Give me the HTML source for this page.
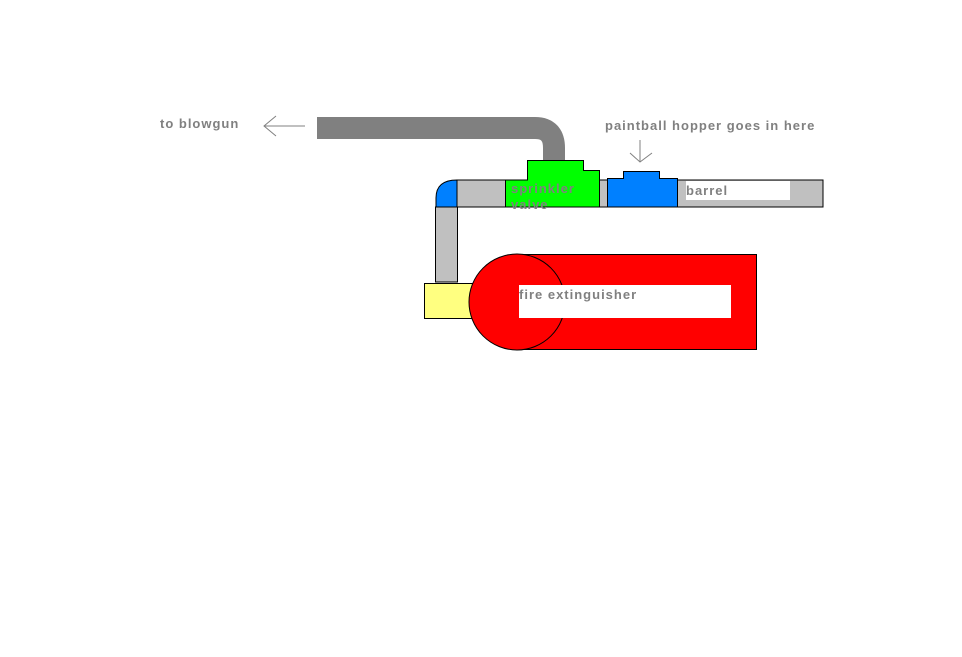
<!DOCTYPE html>
<html><head><style>
body{margin:0;width:962px;height:657px;background:#fff;position:relative;overflow:hidden;font-family:"Liberation Sans",sans-serif;}
.a{position:absolute;box-sizing:border-box;}
.t{position:absolute;color:#808080;font-weight:bold;font-size:13px;white-space:nowrap;line-height:1;letter-spacing:1px;}
</style></head><body>
<svg class="a" style="left:0;top:0" width="962" height="657">
<path d="M317 128 H535 Q554 128 554 148 V160" stroke="#808080" stroke-width="22" fill="none"/>
<line x1="264" y1="126" x2="305" y2="126" stroke="#808080"/>
<polyline points="276,116 264,126 276,136" stroke="#808080" fill="none"/>
<line x1="640" y1="140" x2="640" y2="162" stroke="#808080"/>
<polyline points="630,153 640,162 652,153" stroke="#808080" fill="none"/>
<rect x="457" y="180" width="366" height="27" fill="#c0c0c0" stroke="#000"/>
<path d="M436 207 V198 Q436 180 457 180 V207 Z" fill="#0080ff" stroke="#000"/>
<rect x="435.5" y="207" width="22" height="75" fill="#c0c0c0" stroke="#000"/>
<path d="M505.5 207 V180 H527.5 V160.5 H583.5 V170.5 H599.5 V207 Z" fill="#00ff00" stroke="#000"/>
<path d="M607.5 207 V178.5 H623.5 V171.5 H659.5 V178.5 H677.5 V207 Z" fill="#0080ff" stroke="#000"/>
<rect x="686" y="181" width="104" height="19" fill="#fff"/>
<rect x="424.5" y="283.5" width="48" height="35" fill="#ffff80" stroke="#000"/>
<rect x="512.5" y="254.5" width="244" height="95" fill="#f00" stroke="#000"/>
<circle cx="517" cy="302" r="48" fill="#f00" stroke="#000"/>
<rect x="519" y="285" width="212" height="33" fill="#fff"/>
</svg>
<div class="t" style="left:160px;top:117px">to blowgun</div>
<div class="t" style="left:605px;top:119px">paintball hopper goes in here</div>
<div class="t" style="left:511px;top:181px;line-height:16px">sprinkler<br>valve</div>
<div class="t" style="left:686px;top:184px">barrel</div>
<div class="t" style="left:519px;top:288px">fire extinguisher</div>
</body></html>
